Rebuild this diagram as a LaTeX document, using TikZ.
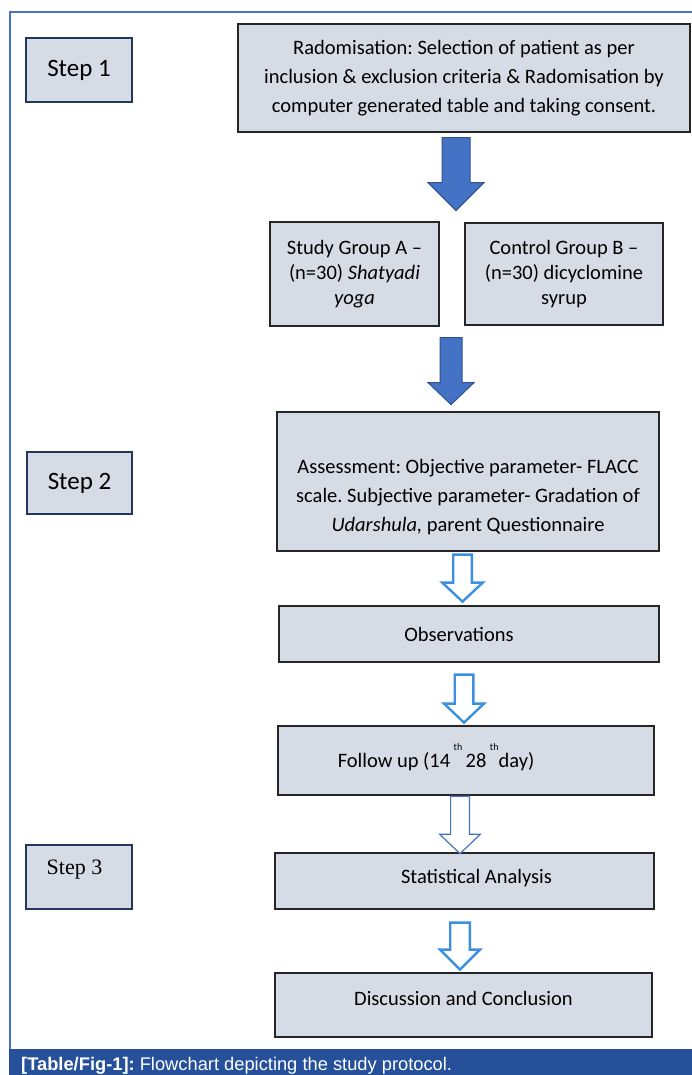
\documentclass[tikz,border=0pt]{standalone}
\usepackage{fontspec}
\setmainfont{Carlito}
\newfontfamily\stepserif{Liberation Serif}
\newfontfamily\capfont{Liberation Sans}
\usetikzlibrary{calc}
\frenchspacing
\definecolor{boxfill}{HTML}{D6DCE5}
\definecolor{boxline}{HTML}{262626}
\definecolor{stepline}{HTML}{22375E}
\definecolor{arrowblue}{HTML}{4472C4}
\definecolor{arrowdark}{HTML}{2F528F}
\definecolor{hollowblue}{HTML}{3D8FE0}
\definecolor{capblue}{HTML}{27509B}

\tikzset{
  flowbox/.style={draw=boxline,fill=boxfill,line width=1.2pt,inner sep=0pt,
    align=center,font=\fontsize{20.5}{29}\selectfont},
  stepbox/.style={draw=stepline,fill=boxfill,line width=1.3pt,inner sep=0pt,
    font=\fontsize{25}{30}\selectfont},
  boxtext/.style={inner sep=0pt,align=center,font=\fontsize{20.5}{29}\selectfont},
  solidarrow/.style={fill=arrowblue,draw=arrowdark,line width=1pt},
  hollowarrow/.style={fill=white,draw=hollowblue,line width=2.4pt},
  thinarrow/.style={fill=white,draw=arrowblue,line width=1.2pt},
  pics/blockarrow/.style args={#1/#2/#3/#4}{code={
    \path[pic actions] (-#1,0) -- (#1,0) -- (#1,#3) -- (#2,#3) -- (0,#3+#4)
      -- (-#2,#3) -- (-#1,#3) -- cycle;}}
}

\begin{document}
\begin{tikzpicture}[x=1pt,y=-1pt]
  \useasboundingbox (0,0) rectangle (692,1075);

  % ---- Frame and caption bar --------------------------------
  \draw[arrowblue,line width=1.3pt] (10,1049) -- (10,12) -- (692,12);
  \fill[capblue] (9,1049) rectangle (692,1075);
  \node[anchor=base west,inner sep=0pt,text=white,
    font=\capfont\fontsize{18.3}{20}\selectfont] (caption) at (21,1070)
    {\textbf{[Table/Fig-1]:} Flowchart depicting the study protocol.};

  % ---- Step labels --------------------------------------------
  \node[stepbox,minimum width=106pt,minimum height=64pt] (step1) at (79,70) {Step 1};
  \node[stepbox,minimum width=105pt,minimum height=62pt] (step2) at (79.5,483) {Step 2};
  \node[stepbox,minimum width=106pt,minimum height=64pt] (step3) at (79,877) {};
  \node[inner sep=0pt,font=\stepserif\fontsize{22}{24}\selectfont] (step3text)
    at ([xshift=-4.5pt,yshift=7pt]step3.center) {Step 3};

  % ---- Randomisation ------------------------------------------
  \node[flowbox,minimum width=452pt,minimum height=108pt] (radom) at (464,78)
    {Radomisation: Selection of patient as per\\
     inclusion \& exclusion criteria \& Radomisation by\\
     computer generated table and taking consent.};

  % ---- Groups -------------------------------------------------
  \node[flowbox,minimum width=169pt,minimum height=104pt,
    font=\fontsize{20.5}{25}\selectfont] (groupA) at (354.5,274)
    {Study Group A –\\(n=30) \textit{Shatyadi}\\\textit{yoga}};
  \node[flowbox,minimum width=198pt,minimum height=102pt,
    font=\fontsize{20.5}{25}\selectfont] (groupB) at (564,274)
    {Control Group B –\\(n=30) dicyclomine\\syrup};

  % ---- Assessment ---------------------------------------------
  \node[flowbox,minimum width=382pt,minimum height=139pt] (assess) at (468,481.5) {};
  \node[boxtext] (assesstext) at ([yshift=-15.5pt]assess.center)
    {Assessment: Objective parameter- FLACC\\
     scale. Subjective parameter- Gradation of\\
     \textit{Udarshula,} parent Questionnaire};

  % ---- Observations and follow up -----------------------------
  \node[flowbox,minimum width=380pt,minimum height=56pt] (obs) at (469,634) {};
  \node[boxtext] (obstext) at ([xshift=-10pt]obs.center) {Observations};
  \node[flowbox,minimum width=376pt,minimum height=69pt] (follow) at (466,760.5) {};
  \node[boxtext] (followtext) at ([xshift=-30pt,yshift=3.5pt]follow.center)
    {Follow up (14\,\raisebox{17pt}{\fontsize{10}{10}\selectfont th}\,28\,%
     \raisebox{17pt}{\fontsize{10}{10}\selectfont th}day)};

  % ---- Analysis and conclusion --------------------------------
  \node[flowbox,minimum width=379pt,minimum height=56pt] (stat) at (464.5,881) {};
  \node[boxtext] (stattext) at ([xshift=12pt,yshift=3pt]stat.center) {Statistical Analysis};
  \node[flowbox,minimum width=377pt,minimum height=64pt] (disc) at (463.5,1005) {};
  \node[boxtext] (disctext) at ([yshift=7pt]disc.center) {Discussion and Conclusion};

  % ---- Block arrows -------------------------------------------
  \pic[solidarrow] at ([xshift=-8pt,yshift=-5pt]radom.south) {blockarrow=14/28/45/28};
  \pic[solidarrow] at ($(groupA.south east)!0.5!(groupB.south west)+(-1,11.5)$)
    {blockarrow=11/23/45/22};
  \pic[hollowarrow] at ([xshift=-5.5pt,yshift=-3pt]assess.south) {blockarrow=9.3/20.3/28/19};
  \pic[hollowarrow] at ([xshift=-5pt,yshift=-12pt]obs.south) {blockarrow=9.3/20/29/19};
  \pic[thinarrow] at ([xshift=-6pt,yshift=-0.6pt]follow.south) {blockarrow=9.4/20.4/38/19.4};
  \pic[hollowarrow] at ([xshift=-4.5pt,yshift=-13pt]stat.south) {blockarrow=9.8/20/27/20};

\end{tikzpicture}
\end{document}
